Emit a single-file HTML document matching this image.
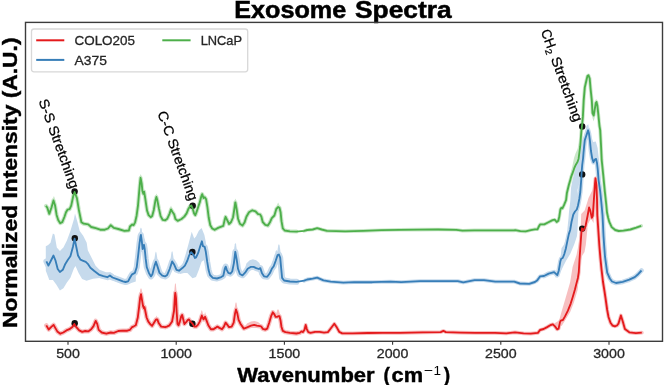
<!DOCTYPE html>
<html><head><meta charset="utf-8"><style>
html,body{margin:0;padding:0;background:#fff;}
svg{display:block;will-change:transform;}
text{font-family:"Liberation Sans",sans-serif;}
</style></head><body>
<svg width="664" height="385" viewBox="0 0 664 385">
<rect width="664" height="385" fill="#fff"/>
<!-- title -->
<text x="234.2" y="17.5" font-size="23" font-weight="bold" fill="#000" stroke="#000" stroke-width="0.5" textLength="112" lengthAdjust="spacingAndGlyphs">Exosome</text><text x="355" y="17.5" font-size="23" font-weight="bold" fill="#000" stroke="#000" stroke-width="0.5" textLength="96.6" lengthAdjust="spacingAndGlyphs">Spectra</text>
<!-- curves -->
<polyline points="46.0,205.8 47.3,207.7 49.3,213.9 51.4,207.7 53.5,200.4 55.1,205.6 56.6,214.9 58.2,220.1 60.2,223.2 62.3,222.2 64.4,217.0 66.0,212.3 67.5,209.7 69.6,209.2 71.2,205.6 73.2,196.2 74.6,192.0 76.9,198.1 78.9,210.1 81.4,222.2 83.7,223.7 88.2,224.4 91.2,227.0 95.7,228.2 100.2,229.7 104.8,229.7 108.0,228.5 110.8,225.2 113.8,227.9 118.3,229.0 124.3,230.9 128.9,230.5 130.0,226.5 132.2,224.5 133.6,225.2 135.1,222.3 136.6,215.7 138.0,205.5 139.0,193.9 139.9,183.7 140.6,177.8 141.7,183.7 142.4,191.0 143.4,193.9 144.1,191.7 145.0,196.8 146.0,203.7 147.0,210.4 148.6,215.1 150.7,217.2 152.2,216.1 153.8,209.9 155.4,200.6 156.4,196.9 157.4,200.6 159.0,208.9 160.6,216.1 162.6,219.8 165.2,220.3 167.3,218.7 169.4,214.1 171.0,209.4 172.5,212.0 174.1,214.3 175.4,219.0 177.7,220.8 181.5,219.0 184.3,216.6 186.6,213.4 188.5,208.7 189.9,206.4 191.3,205.4 192.7,208.7 194.1,213.4 195.3,215.2 196.4,212.4 197.8,208.2 199.9,201.9 201.2,196.7 202.2,194.1 203.5,198.0 204.8,197.3 206.1,199.3 207.4,207.1 208.7,217.5 210.3,225.3 212.2,228.5 214.8,229.8 218.1,227.9 221.3,226.6 223.3,225.9 224.6,220.1 225.6,216.8 227.2,220.1 229.1,224.0 231.1,222.0 233.0,217.5 234.2,210.0 235.3,202.3 235.4,202.3 236.7,209.5 238.0,218.6 239.9,223.8 242.5,225.6 244.5,222.6 246.4,216.8 249.0,212.2 252.3,210.3 255.5,211.3 258.1,214.2 260.1,214.4 261.4,216.8 262.7,222.0 265.3,224.8 267.9,225.6 269.8,222.6 271.8,218.1 274.4,215.5 276.3,209.0 278.2,207.0 279.5,207.7 280.6,212.2 281.5,221.2 282.8,228.3 284.7,230.5 289.9,231.3 296.4,231.6" fill="none" stroke="#c9e7c8" stroke-width="4.0" stroke-linejoin="round" stroke-linecap="round"/>
<polyline points="304.2,230.9 307.2,230.0 312.7,229.5 317.2,228.2 321.7,229.5 327.1,230.9 345.2,231.3 363.3,230.9 381.4,230.2 399.5,229.8 420.0,229.6 438.1,229.5 456.2,229.8 462.5,230.7 474.2,230.4 492.3,230.4 514.0,230.4 515.2,230.1 520.4,231.2 525.6,231.4 530.8,230.1 534.9,229.3 537.5,229.3 539.1,226.0 540.1,224.4 544.3,224.4 548.4,222.3 552.6,220.2 554.7,219.7 556.7,222.0 558.3,220.8 559.3,216.6 560.4,209.3 561.4,207.8 562.4,208.3 564.0,205.2 566.1,200.0 566.9,193.0 568.9,184.8 570.3,180.0 571.3,176.3 572.9,172.2 574.5,167.5 576.0,164.4 577.6,161.8 578.6,158.7 579.4,152.5 580.2,146.2 580.7,140.0 581.3,132.0 582.1,125.0 582.9,116.4 583.7,100.3 584.8,87.4 586.1,81.7 587.4,76.1 588.5,75.3 589.7,78.5 590.6,89.0 591.8,100.3 592.5,113.0 593.7,115.5 594.8,108.9 595.8,103.0 596.5,101.9 597.4,105.8 598.4,115.2 599.5,126.1 600.2,130.1 601.0,145.0 601.7,160.0 603.3,175.6 604.8,191.3 606.2,204.0 607.0,212.5 608.2,218.0 609.3,221.9 611.7,227.1 615.2,230.0 618.7,231.0 623.4,230.6 630.4,229.5 636.2,227.7 641.2,225.9" fill="none" stroke="#c9e7c8" stroke-width="3.6" stroke-linejoin="round" stroke-linecap="round"/>
<polyline points="46.4,261.4 48.4,265.6 51.0,260.5 53.5,255.5 55.5,260.5 57.7,269.0 59.9,272.0 62.8,269.8 65.3,263.9 67.9,259.7 70.4,256.3 72.9,247.0 74.6,238.6 76.3,247.0 78.0,255.5 80.5,259.7 82.6,260.6 85.8,261.9 87.8,263.8 90.4,267.7 94.3,271.0 99.5,274.9 103.4,276.2 107.3,277.2 109.9,275.5 112.5,277.5 117.7,279.4 122.9,281.4 125.5,282.0 128.1,281.4 130.0,277.8 132.1,274.3 134.9,272.9 136.7,267.3 138.1,256.0 139.5,243.4 140.5,236.4 140.9,235.0 141.9,242.0 142.6,249.0 143.3,245.5 144.0,244.8 144.7,249.0 145.7,258.9 146.8,267.3 148.9,272.9 151.0,276.4 152.4,274.3 154.5,265.9 155.9,261.7 157.3,265.9 159.5,272.9 162.3,275.7 165.0,276.4 167.2,274.9 169.7,269.0 172.2,261.4 174.3,264.8 176.5,269.8 179.0,270.7 182.4,268.1 184.9,265.6 187.4,260.5 189.1,255.5 191.1,252.1 193.3,254.6 195.0,258.0 196.0,257.5 198.1,253.2 200.2,246.2 201.9,241.3 203.0,246.2 204.7,246.9 205.8,251.8 207.2,261.7 208.6,270.1 210.0,275.0 212.8,277.8 217.0,278.5 221.2,277.1 223.3,275.7 224.8,268.7 225.7,266.6 226.9,270.1 228.3,272.9 230.4,273.6 232.2,271.5 233.9,263.1 235.3,251.8 236.7,259.7 238.0,268.8 239.9,274.0 242.5,275.3 245.1,272.7 247.7,268.8 251.0,266.8 253.6,266.8 256.2,268.1 258.8,269.0 260.3,268.1 262.0,273.3 264.0,276.3 267.2,276.8 269.8,273.3 271.8,268.8 273.7,266.2 275.6,261.0 277.6,255.1 278.9,254.5 280.2,257.7 281.1,267.5 282.1,277.9 284.1,280.5 289.9,281.5 296.4,281.8" fill="none" stroke="#c6daec" stroke-width="6.0" stroke-linejoin="round" stroke-linecap="round"/>
<polyline points="304.2,280.7 307.2,279.5 312.7,278.6 317.2,277.7 323.5,280.4 330.7,281.6 343.4,282.7 354.2,282.2 372.3,282.2 390.4,281.6 401.3,282.2 420.0,281.1 438.8,281.1 457.7,281.1 463.3,282.4 474.6,280.1 484.0,280.1 495.3,281.6 514.2,281.6 519.8,283.5 529.2,283.9 534.9,282.0 537.0,280.6 539.3,277.5 540.1,276.4 544.0,276.0" fill="none" stroke="#c6daec" stroke-width="3.8" stroke-linejoin="round" stroke-linecap="round"/>
<polyline points="544.0,276.0 548.7,273.6 554.1,272.1 555.7,273.6 557.3,275.2 558.8,270.5 560.4,261.2 561.2,258.8 562.7,258.0 564.3,254.1 565.8,248.7 567.4,240.9 568.9,233.9 570.2,230.0 571.5,222.0 573.3,214.5 575.0,211.5 576.8,209.5 578.0,205.5 579.3,199.0 580.3,192.0 581.2,180.0 581.7,171.2 582.2,165.0 583.1,158.0 583.5,153.0 584.1,146.6 584.8,140.1 585.7,137.5 587.0,133.6 588.1,130.3 589.0,133.6 590.0,141.4 590.9,150.5 592.2,158.3 593.5,162.2 594.8,159.6 596.1,158.9 597.0,163.0 597.8,170.0 598.6,180.3 600.2,191.3 601.3,202.2 602.5,215.0 603.0,225.0 603.5,235.8 604.2,246.0 605.0,256.7 606.7,269.2 607.2,272.7 609.8,278.5 612.0,281.5 616.0,283.0 622.7,281.9 629.3,279.7 634.8,277.1 637.5,274.8 641.5,270.5" fill="none" stroke="#c6daec" stroke-width="4.6" stroke-linejoin="round" stroke-linecap="round"/>
<polyline points="46.3,325.4 48.7,329.5 51.3,326.9 53.6,324.9 55.1,327.6 57.3,331.4 60.3,333.7 63.3,332.5 66.4,330.4 69.4,329.2 72.4,326.9 74.3,323.9 76.1,326.9 79.2,330.4 82.2,331.9 85.2,331.0 88.2,331.4 91.2,329.2 93.5,326.1 95.7,320.9 97.2,323.9 98.7,329.9 101.7,332.5 106.3,333.7 110.8,332.5 113.8,332.9 118.3,331.0 122.8,330.7 127.3,330.7 130.0,329.8 132.0,327.2 133.9,326.3 135.8,325.3 137.8,317.5 139.1,307.1 140.1,298.0 141.0,294.1 141.9,299.3 143.0,305.8 144.0,308.4 144.5,307.1 145.3,311.0 146.6,317.5 148.2,321.4 150.1,324.0 152.1,325.9 154.0,322.7 156.0,319.4 157.3,319.4 158.8,323.3 161.2,326.6 165.1,327.2 166.9,326.6 169.5,325.3 172.1,321.4 174.0,311.0 175.0,295.4 175.3,292.8 176.0,298.0 176.6,311.0 177.5,324.0 178.6,325.3 179.9,321.4 181.2,316.2 182.2,314.9 183.1,318.8 184.4,324.0 185.7,322.7 187.7,320.1 189.0,319.4 190.3,321.4 192.2,323.3 194.2,326.6 196.1,326.6 198.1,324.6 199.9,321.4 201.8,315.5 203.5,319.4 205.1,316.8 206.4,320.1 208.3,325.3 210.9,329.2 213.5,329.2 215.5,327.9 217.4,326.6 219.4,327.9 222.0,329.2 223.9,326.6 225.6,322.7 227.2,324.6 229.1,327.2 231.7,326.6 233.7,322.7 235.0,313.6 236.0,309.5 237.3,313.4 238.6,319.9 240.6,324.0 243.8,328.6 247.1,327.3 251.0,325.7 254.2,324.9 256.8,325.7 260.1,326.2 261.4,326.6 262.7,328.8 265.3,329.6 267.2,328.6 269.2,322.7 271.1,316.2 272.8,312.3 274.4,314.3 275.6,316.9 276.9,316.9 278.2,316.2 279.5,316.2 280.6,320.8 281.5,327.0 282.8,330.9 285.4,332.2 289.9,332.9 296.4,333.5 299.7,332.9" fill="none" stroke="#f7bfc0" stroke-width="4.4" stroke-linejoin="round" stroke-linecap="round"/>
<polyline points="299.7,332.9 301.5,331.4 303.0,332.1 304.5,329.8 305.7,324.9 306.8,329.1 308.3,332.1 310.5,332.9 315.1,331.8 319.6,331.8 324.1,332.6 327.9,332.1 330.9,328.3 334.3,323.8 336.9,327.6 339.2,331.8 342.2,333.3 352.7,333.3 367.8,333.0 382.8,332.9 400.0,332.9 422.6,332.4 440.7,332.1 443.4,330.9 445.9,332.1 460.2,332.6 475.3,332.9 495.0,332.9 506.4,333.3 515.0,332.4 523.6,333.3 530.7,333.6 537.9,332.9 540.0,330.0 543.6,329.0 547.1,327.1 550.7,325.0 552.9,324.3 555.0,326.4 557.1,329.3 558.6,328.6 560.0,322.1 560.7,320.7 562.9,320.0 565.0,316.4 567.9,310.7 570.7,303.6 572.9,296.4 575.0,289.3 576.4,283.6 577.9,277.9 578.8,272.0 579.5,260.0 580.3,247.8 581.4,232.5 582.0,228.3 583.5,230.4 585.5,226.3 587.6,215.8 589.1,207.5 590.3,210.6 591.8,217.9 592.8,215.8 593.9,199.2 594.9,184.6 595.5,178.3 596.4,185.0 597.0,199.0 597.3,215.0 598.3,230.0 599.4,246.3 600.4,258.0 601.5,269.2 603.0,282.0 604.6,292.0 605.5,298.0 607.2,310.0 608.5,317.0 610.5,322.8 612.5,325.5 614.9,326.3 617.0,325.5 618.5,323.5 620.9,315.5 622.7,321.2 624.9,329.0 629.3,332.3 635.9,333.2 641.8,332.7" fill="none" stroke="#f7bfc0" stroke-width="3.8" stroke-linejoin="round" stroke-linecap="round"/>
<polygon points="45.8,246.2 48.2,245.0 50.5,242.7 52.9,233.4 54.5,234.5 56.8,247.4 59.9,250.9 63.4,247.4 66.9,240.4 70.4,231.0 73.9,219.3 75.0,213.5 77.4,221.7 79.7,231.0 83.2,235.7 86.7,242.7 87.8,250.2 91.7,258.0 95.6,265.8 99.5,269.7 106.0,272.3 110.5,272.3 115.0,275.5 122.9,279.0 128.0,279.0 132.0,273.0 135.8,270.3 135.8,281.4 132.0,282.7 126.8,284.6 121.6,283.3 113.8,280.7 106.0,278.5 99.5,278.1 93.0,278.8 86.5,280.7 82.1,279.0 78.6,273.1 75.5,266.1 73.9,268.4 70.4,277.8 66.9,282.4 63.4,288.3 59.9,290.6 56.4,284.8 52.9,280.1 49.3,280.1 45.8,270.7" fill="#c6daec"/>
<polygon points="180.0,269.0 183.0,263.0 186.0,253.0 188.5,244.0 191.7,231.8 194.2,238.6 196.0,236.4 198.8,230.8 201.6,228.0 204.4,235.0 205.8,242.0 206.5,256.0 208.0,268.0 208.0,272.0 207.2,270.0 205.8,264.5 203.7,260.3 201.6,261.7 198.8,270.0 196.0,277.0 192.5,278.3 187.4,273.0 184.0,273.0 180.0,274.0" fill="#c6daec"/>
<polygon points="555.0,276.0 557.0,272.0 558.1,268.5 559.5,260.4 560.8,255.0 561.5,248.3 564.2,244.2 566.9,236.1 567.5,228.0 568.5,218.0 569.0,211.4 570.3,201.0 571.0,188.0 572.5,180.0 575.0,170.0 578.0,158.0 580.5,148.0 582.5,140.0 584.0,136.0 586.5,126.0 588.3,124.0 588.1,131.0 587.0,133.0 585.5,137.0 584.0,142.0 582.9,150.0 582.0,160.0 581.3,170.0 580.8,180.0 578.5,186.0 577.5,190.0 578.5,200.0 578.5,210.0 578.0,220.0 577.5,230.0 577.0,236.0 574.3,244.2 570.3,253.7 566.2,260.4 563.5,265.8 561.5,269.9 559.0,274.0 556.0,278.0" fill="#c6daec"/>
<polygon points="588.5,124.5 590.5,134.0 593.0,142.0 595.8,141.5 597.6,148.0 599.0,160.0 600.5,180.0 602.5,200.0 604.0,212.0 605.0,240.0 604.0,256.7 603.2,246.0 602.5,235.8 602.0,225.0 601.5,215.0 600.3,202.2 599.2,191.3 597.6,180.3 596.8,170.0 596.0,163.0 595.1,158.9 593.8,159.6 592.5,162.2 591.2,158.3 589.9,150.5 589.0,141.4 588.0,133.6" fill="#c6daec"/>
<polygon points="555.0,323.0 559.1,320.5 561.6,311.4 565.3,299.1 570.2,281.9 572.6,267.1 574.5,261.0 576.5,255.0 578.5,245.0 580.0,235.0 580.8,225.0 581.2,214.0 584.6,210.6 587.0,203.0 588.5,198.1 590.0,195.0 592.5,190.0 594.5,179.0 596.0,176.0 597.0,180.0 596.5,190.0 594.0,205.0 593.6,223.0 590.8,218.4 586.9,226.2 587.5,228.0 586.8,235.0 585.8,245.0 584.5,252.0 582.0,256.0 580.5,262.0 579.6,270.0 578.8,278.0 577.6,290.0 573.9,302.5 570.2,312.0 565.3,320.0 562.0,325.5 555.0,329.5" fill="#f7bfc0"/>
<polygon points="566.0,195.0 568.0,186.0 570.0,176.0 572.4,166.0 574.0,158.0 575.5,153.5 577.5,149.0 579.5,141.0 581.0,131.0 580.7,140.0 580.2,146.2 579.4,152.5 578.6,158.7 577.6,161.8 576.0,164.4 574.5,167.5 572.9,172.2 571.3,176.3 570.3,180.0 568.9,184.8 566.9,193.0 566.1,200.0" fill="#c9e7c8"/>
<polygon points="591.0,105.0 592.5,118.0 593.7,121.5 595.5,114.0 597.0,106.0 598.5,112.0 597.0,100.0 596.0,99.0 594.0,106.0" fill="#c9e7c8"/>
<polygon points="137.0,262.0 139.0,240.0 141.0,227.6 143.0,236.0 145.0,240.0 147.0,252.0 147.0,270.0 145.0,258.0 143.0,252.0 141.0,250.0 139.0,262.0 137.0,272.0" fill="#c6daec"/>
<polygon points="244.0,272.0 246.4,263.5 249.7,260.3 252.9,259.2 256.2,260.3 259.4,263.0 261.0,268.0 252.0,270.0" fill="#c6daec"/>
<polygon points="244.0,328.0 247.0,323.5 251.0,321.5 254.5,321.0 258.0,322.0 261.0,324.5 262.0,328.0" fill="#f7bfc0"/>
<polygon points="138.5,241 140.2,229.0 140.9,227.5 141.6,229.0 143.3,241" fill="#c6daec"/>
<polygon points="142.5,250 143.9,243.5 144.5,242 145.1,243.5 146.5,250" fill="#c6daec"/>
<polygon points="153.9,262 155.3,253.1 155.9,251.6 156.5,253.1 157.9,262" fill="#c6daec"/>
<polygon points="170.1,262 171.5,252.4 172.1,250.9 172.7,252.4 174.1,262" fill="#c6daec"/>
<polygon points="233.4,254 234.8,244.3 235.4,242.8 236.0,244.3 237.4,254" fill="#c6daec"/>
<polygon points="276.7,256 278.2,245.6 278.9,244.1 279.6,245.6 281.1,256" fill="#c6daec"/>
<polygon points="273.5,262 275.6,251.5 276.5,250 277.4,251.5 279.5,262" fill="#c6daec"/>
<polygon points="138.8,298 140.3,289.4 141.0,287.9 141.7,289.4 143.2,298" fill="#f7bfc0"/>
<polygon points="142.7,310 144.0,304.5 144.5,303 145.0,304.5 146.3,310" fill="#f7bfc0"/>
<polygon points="173.8,297 174.9,284.5 175.4,283 175.9,284.5 177.0,297" fill="#f7bfc0"/>
<polygon points="154.6,321 156.0,317.0 156.6,315.5 157.2,317.0 158.6,321" fill="#f7bfc0"/>
<polygon points="180.4,318 181.5,314.5 182.0,313 182.5,314.5 183.6,318" fill="#f7bfc0"/>
<polygon points="234.0,312 235.4,303.5 236.0,302 236.6,303.5 238.0,312" fill="#f7bfc0"/>
<polygon points="199.8,317 201.2,311.5 201.8,310 202.4,311.5 203.8,317" fill="#f7bfc0"/>
<polygon points="203.6,318 204.7,313.5 205.1,312 205.5,313.5 206.6,318" fill="#f7bfc0"/>
<polygon points="275.0,318 277.1,310.5 278.0,309 278.9,310.5 281.0,318" fill="#f7bfc0"/>
<polygon points="51.9,203 53.3,197.5 53.9,196 54.5,197.5 55.9,203" fill="#c9e7c8"/>
<polygon points="138.7,181 140.1,175.5 140.7,174 141.3,175.5 142.7,181" fill="#c9e7c8"/>
<polygon points="154.4,199 155.8,195.0 156.4,193.5 157.0,195.0 158.4,199" fill="#c9e7c8"/>
<polygon points="169.0,211 170.4,207.0 171.0,205.5 171.6,207.0 173.0,211" fill="#c9e7c8"/>
<polygon points="233.4,205 234.8,200.0 235.4,198.5 236.0,200.0 237.4,205" fill="#c9e7c8"/>
<polygon points="275.7,209 277.4,204.0 278.2,202.5 278.9,204.0 280.7,209" fill="#c9e7c8"/>
<circle cx="74.6" cy="191.4" r="3.2" fill="#111"/>
<circle cx="74.8" cy="238.2" r="3.2" fill="#111"/>
<circle cx="74.7" cy="323.3" r="3.2" fill="#111"/>
<circle cx="192.7" cy="205.8" r="3.2" fill="#111"/>
<circle cx="192.4" cy="252" r="3.2" fill="#111"/>
<circle cx="192.4" cy="323.8" r="3.2" fill="#111"/>
<circle cx="582.2" cy="126.5" r="3.2" fill="#111"/>
<circle cx="582.2" cy="174.4" r="3.2" fill="#111"/>
<circle cx="582.2" cy="228.6" r="3.2" fill="#111"/>
<polyline points="46.0,205.8 47.3,207.7 49.3,213.9 51.4,207.7 53.5,200.4 55.1,205.6 56.6,214.9 58.2,220.1 60.2,223.2 62.3,222.2 64.4,217.0 66.0,212.3 67.5,209.7 69.6,209.2 71.2,205.6 73.2,196.2 74.6,192.0 76.9,198.1 78.9,210.1 81.4,222.2 83.7,223.7 88.2,224.4 91.2,227.0 95.7,228.2 100.2,229.7 104.8,229.7 108.0,228.5 110.8,225.2 113.8,227.9 118.3,229.0 124.3,230.9 128.9,230.5 130.0,226.5 132.2,224.5 133.6,225.2 135.1,222.3 136.6,215.7 138.0,205.5 139.0,193.9 139.9,183.7 140.6,177.8 141.7,183.7 142.4,191.0 143.4,193.9 144.1,191.7 145.0,196.8 146.0,203.7 147.0,210.4 148.6,215.1 150.7,217.2 152.2,216.1 153.8,209.9 155.4,200.6 156.4,196.9 157.4,200.6 159.0,208.9 160.6,216.1 162.6,219.8 165.2,220.3 167.3,218.7 169.4,214.1 171.0,209.4 172.5,212.0 174.1,214.3 175.4,219.0 177.7,220.8 181.5,219.0 184.3,216.6 186.6,213.4 188.5,208.7 189.9,206.4 191.3,205.4 192.7,208.7 194.1,213.4 195.3,215.2 196.4,212.4 197.8,208.2 199.9,201.9 201.2,196.7 202.2,194.1 203.5,198.0 204.8,197.3 206.1,199.3 207.4,207.1 208.7,217.5 210.3,225.3 212.2,228.5 214.8,229.8 218.1,227.9 221.3,226.6 223.3,225.9 224.6,220.1 225.6,216.8 227.2,220.1 229.1,224.0 231.1,222.0 233.0,217.5 234.2,210.0 235.3,202.3 235.4,202.3 236.7,209.5 238.0,218.6 239.9,223.8 242.5,225.6 244.5,222.6 246.4,216.8 249.0,212.2 252.3,210.3 255.5,211.3 258.1,214.2 260.1,214.4 261.4,216.8 262.7,222.0 265.3,224.8 267.9,225.6 269.8,222.6 271.8,218.1 274.4,215.5 276.3,209.0 278.2,207.0 279.5,207.7 280.6,212.2 281.5,221.2 282.8,228.3 284.7,230.5 289.9,231.3 296.4,231.6 304.2,230.9 307.2,230.0 312.7,229.5 317.2,228.2 321.7,229.5 327.1,230.9 345.2,231.3 363.3,230.9 381.4,230.2 399.5,229.8 420.0,229.6 438.1,229.5 456.2,229.8 462.5,230.7 474.2,230.4 492.3,230.4 514.0,230.4 515.2,230.1 520.4,231.2 525.6,231.4 530.8,230.1 534.9,229.3 537.5,229.3 539.1,226.0 540.1,224.4 544.3,224.4 548.4,222.3 552.6,220.2 554.7,219.7 556.7,222.0 558.3,220.8 559.3,216.6 560.4,209.3 561.4,207.8 562.4,208.3 564.0,205.2 566.1,200.0 566.9,193.0 568.9,184.8 570.3,180.0 571.3,176.3 572.9,172.2 574.5,167.5 576.0,164.4 577.6,161.8 578.6,158.7 579.4,152.5 580.2,146.2 580.7,140.0 581.3,132.0 582.1,125.0 582.9,116.4 583.7,100.3 584.8,87.4 586.1,81.7 587.4,76.1 588.5,75.3 589.7,78.5 590.6,89.0 591.8,100.3 592.5,113.0 593.7,115.5 594.8,108.9 595.8,103.0 596.5,101.9 597.4,105.8 598.4,115.2 599.5,126.1 600.2,130.1 601.0,145.0 601.7,160.0 603.3,175.6 604.8,191.3 606.2,204.0 607.0,212.5 608.2,218.0 609.3,221.9 611.7,227.1 615.2,230.0 618.7,231.0 623.4,230.6 630.4,229.5 636.2,227.7 641.2,225.9" fill="none" stroke="#4daf4a" stroke-width="1.85" stroke-linejoin="round"/>
<polyline points="46.4,261.4 48.4,265.6 51.0,260.5 53.5,255.5 55.5,260.5 57.7,269.0 59.9,272.0 62.8,269.8 65.3,263.9 67.9,259.7 70.4,256.3 72.9,247.0 74.6,238.6 76.3,247.0 78.0,255.5 80.5,259.7 82.6,260.6 85.8,261.9 87.8,263.8 90.4,267.7 94.3,271.0 99.5,274.9 103.4,276.2 107.3,277.2 109.9,275.5 112.5,277.5 117.7,279.4 122.9,281.4 125.5,282.0 128.1,281.4 130.0,277.8 132.1,274.3 134.9,272.9 136.7,267.3 138.1,256.0 139.5,243.4 140.5,236.4 140.9,235.0 141.9,242.0 142.6,249.0 143.3,245.5 144.0,244.8 144.7,249.0 145.7,258.9 146.8,267.3 148.9,272.9 151.0,276.4 152.4,274.3 154.5,265.9 155.9,261.7 157.3,265.9 159.5,272.9 162.3,275.7 165.0,276.4 167.2,274.9 169.7,269.0 172.2,261.4 174.3,264.8 176.5,269.8 179.0,270.7 182.4,268.1 184.9,265.6 187.4,260.5 189.1,255.5 191.1,252.1 193.3,254.6 195.0,258.0 196.0,257.5 198.1,253.2 200.2,246.2 201.9,241.3 203.0,246.2 204.7,246.9 205.8,251.8 207.2,261.7 208.6,270.1 210.0,275.0 212.8,277.8 217.0,278.5 221.2,277.1 223.3,275.7 224.8,268.7 225.7,266.6 226.9,270.1 228.3,272.9 230.4,273.6 232.2,271.5 233.9,263.1 235.3,251.8 236.7,259.7 238.0,268.8 239.9,274.0 242.5,275.3 245.1,272.7 247.7,268.8 251.0,266.8 253.6,266.8 256.2,268.1 258.8,269.0 260.3,268.1 262.0,273.3 264.0,276.3 267.2,276.8 269.8,273.3 271.8,268.8 273.7,266.2 275.6,261.0 277.6,255.1 278.9,254.5 280.2,257.7 281.1,267.5 282.1,277.9 284.1,280.5 289.9,281.5 296.4,281.8 304.2,280.7 307.2,279.5 312.7,278.6 317.2,277.7 323.5,280.4 330.7,281.6 343.4,282.7 354.2,282.2 372.3,282.2 390.4,281.6 401.3,282.2 420.0,281.1 438.8,281.1 457.7,281.1 463.3,282.4 474.6,280.1 484.0,280.1 495.3,281.6 514.2,281.6 519.8,283.5 529.2,283.9 534.9,282.0 537.0,280.6 539.3,277.5 540.1,276.4 544.0,276.0 548.7,273.6 554.1,272.1 555.7,273.6 557.3,275.2 558.8,270.5 560.4,261.2 561.2,258.8 562.7,258.0 564.3,254.1 565.8,248.7 567.4,240.9 568.9,233.9 570.2,230.0 571.5,222.0 573.3,214.5 575.0,211.5 576.8,209.5 578.0,205.5 579.3,199.0 580.3,192.0 581.2,180.0 581.7,171.2 582.2,165.0 583.1,158.0 583.5,153.0 584.1,146.6 584.8,140.1 585.7,137.5 587.0,133.6 588.1,130.3 589.0,133.6 590.0,141.4 590.9,150.5 592.2,158.3 593.5,162.2 594.8,159.6 596.1,158.9 597.0,163.0 597.8,170.0 598.6,180.3 600.2,191.3 601.3,202.2 602.5,215.0 603.0,225.0 603.5,235.8 604.2,246.0 605.0,256.7 606.7,269.2 607.2,272.7 609.8,278.5 612.0,281.5 616.0,283.0 622.7,281.9 629.3,279.7 634.8,277.1 637.5,274.8 641.5,270.5" fill="none" stroke="#377eb8" stroke-width="1.85" stroke-linejoin="round"/>
<polyline points="46.3,325.4 48.7,329.5 51.3,326.9 53.6,324.9 55.1,327.6 57.3,331.4 60.3,333.7 63.3,332.5 66.4,330.4 69.4,329.2 72.4,326.9 74.3,323.9 76.1,326.9 79.2,330.4 82.2,331.9 85.2,331.0 88.2,331.4 91.2,329.2 93.5,326.1 95.7,320.9 97.2,323.9 98.7,329.9 101.7,332.5 106.3,333.7 110.8,332.5 113.8,332.9 118.3,331.0 122.8,330.7 127.3,330.7 130.0,329.8 132.0,327.2 133.9,326.3 135.8,325.3 137.8,317.5 139.1,307.1 140.1,298.0 141.0,294.1 141.9,299.3 143.0,305.8 144.0,308.4 144.5,307.1 145.3,311.0 146.6,317.5 148.2,321.4 150.1,324.0 152.1,325.9 154.0,322.7 156.0,319.4 157.3,319.4 158.8,323.3 161.2,326.6 165.1,327.2 166.9,326.6 169.5,325.3 172.1,321.4 174.0,311.0 175.0,295.4 175.3,292.8 176.0,298.0 176.6,311.0 177.5,324.0 178.6,325.3 179.9,321.4 181.2,316.2 182.2,314.9 183.1,318.8 184.4,324.0 185.7,322.7 187.7,320.1 189.0,319.4 190.3,321.4 192.2,323.3 194.2,326.6 196.1,326.6 198.1,324.6 199.9,321.4 201.8,315.5 203.5,319.4 205.1,316.8 206.4,320.1 208.3,325.3 210.9,329.2 213.5,329.2 215.5,327.9 217.4,326.6 219.4,327.9 222.0,329.2 223.9,326.6 225.6,322.7 227.2,324.6 229.1,327.2 231.7,326.6 233.7,322.7 235.0,313.6 236.0,309.5 237.3,313.4 238.6,319.9 240.6,324.0 243.8,328.6 247.1,327.3 251.0,325.7 254.2,324.9 256.8,325.7 260.1,326.2 261.4,326.6 262.7,328.8 265.3,329.6 267.2,328.6 269.2,322.7 271.1,316.2 272.8,312.3 274.4,314.3 275.6,316.9 276.9,316.9 278.2,316.2 279.5,316.2 280.6,320.8 281.5,327.0 282.8,330.9 285.4,332.2 289.9,332.9 296.4,333.5 299.7,332.9 301.5,331.4 303.0,332.1 304.5,329.8 305.7,324.9 306.8,329.1 308.3,332.1 310.5,332.9 315.1,331.8 319.6,331.8 324.1,332.6 327.9,332.1 330.9,328.3 334.3,323.8 336.9,327.6 339.2,331.8 342.2,333.3 352.7,333.3 367.8,333.0 382.8,332.9 400.0,332.9 422.6,332.4 440.7,332.1 443.4,330.9 445.9,332.1 460.2,332.6 475.3,332.9 495.0,332.9 506.4,333.3 515.0,332.4 523.6,333.3 530.7,333.6 537.9,332.9 540.0,330.0 543.6,329.0 547.1,327.1 550.7,325.0 552.9,324.3 555.0,326.4 557.1,329.3 558.6,328.6 560.0,322.1 560.7,320.7 562.9,320.0 565.0,316.4 567.9,310.7 570.7,303.6 572.9,296.4 575.0,289.3 576.4,283.6 577.9,277.9 578.8,272.0 579.5,260.0 580.3,247.8 581.4,232.5 582.0,228.3 583.5,230.4 585.5,226.3 587.6,215.8 589.1,207.5 590.3,210.6 591.8,217.9 592.8,215.8 593.9,199.2 594.9,184.6 595.5,178.3 596.4,185.0 597.0,199.0 597.3,215.0 598.3,230.0 599.4,246.3 600.4,258.0 601.5,269.2 603.0,282.0 604.6,292.0 605.5,298.0 607.2,310.0 608.5,317.0 610.5,322.8 612.5,325.5 614.9,326.3 617.0,325.5 618.5,323.5 620.9,315.5 622.7,321.2 624.9,329.0 629.3,332.3 635.9,333.2 641.8,332.7" fill="none" stroke="#e41a1c" stroke-width="1.85" stroke-linejoin="round"/>
<!-- axes frame -->
<rect x="25.5" y="22.4" width="637" height="318.9" fill="none" stroke="#3c3c3c" stroke-width="1.4"/>
<!-- x ticks -->
<g stroke="#333" stroke-width="1.1">
<line x1="68" y1="341.3" x2="68" y2="344.8"/>
<line x1="176.2" y1="341.3" x2="176.2" y2="344.8"/>
<line x1="284.4" y1="341.3" x2="284.4" y2="344.8"/>
<line x1="392.6" y1="341.3" x2="392.6" y2="344.8"/>
<line x1="500.8" y1="341.3" x2="500.8" y2="344.8"/>
<line x1="609" y1="341.3" x2="609" y2="344.8"/>
</g>
<g font-size="13.2" fill="#262626" stroke="#262626" stroke-width="0.3" text-anchor="middle">
<text x="68" y="358.3" textLength="23.7" lengthAdjust="spacingAndGlyphs">500</text>
<text x="176.2" y="358.3" textLength="31.6" lengthAdjust="spacingAndGlyphs">1000</text>
<text x="284.4" y="358.3" textLength="31.6" lengthAdjust="spacingAndGlyphs">1500</text>
<text x="392.6" y="358.3" textLength="31.6" lengthAdjust="spacingAndGlyphs">2000</text>
<text x="500.8" y="358.3" textLength="31.6" lengthAdjust="spacingAndGlyphs">2500</text>
<text x="609" y="358.3" textLength="31.6" lengthAdjust="spacingAndGlyphs">3000</text>
</g>
<!-- x label -->
<text x="237.2" y="382.3" font-size="19.3" font-weight="bold" fill="#000" stroke="#000" stroke-width="0.4" textLength="137.5" lengthAdjust="spacingAndGlyphs">Wavenumber</text>
<text x="383.6" y="382.3" font-size="19.3" font-weight="bold" fill="#000" stroke="#000" stroke-width="0.4">(</text>
<text x="391.6" y="382.3" font-size="19.3" font-weight="bold" fill="#000" stroke="#000" stroke-width="0.4" textLength="31.5" lengthAdjust="spacingAndGlyphs">cm</text>
<text x="424" y="374.8" font-size="13.5" fill="#000" textLength="9.2" lengthAdjust="spacingAndGlyphs">&#8722;</text>
<text x="433.6" y="374.8" font-size="13.5" fill="#000">1</text>
<text x="443.8" y="382.3" font-size="19.3" font-weight="bold" fill="#000" stroke="#000" stroke-width="0.4">)</text>
<!-- y label -->
<text transform="translate(16.6,182.7) rotate(-90)" text-anchor="middle" font-size="19.3" font-weight="bold" fill="#000" stroke="#000" stroke-width="0.4" textLength="290.5" lengthAdjust="spacingAndGlyphs">Normalized Intensity (A.U.)</text>
<!-- legend -->
<rect x="31.5" y="29" width="216.2" height="42.8" rx="2.5" fill="#fff" fill-opacity="0.8" stroke="#d8d8d8" stroke-width="1.3"/>
<line x1="36.2" y1="40.3" x2="64.3" y2="40.3" stroke="#e41a1c" stroke-width="2"/>
<line x1="36.2" y1="59.9" x2="64.3" y2="59.9" stroke="#377eb8" stroke-width="2"/>
<line x1="162.3" y1="40.3" x2="190.6" y2="40.3" stroke="#4daf4a" stroke-width="2"/>
<g font-size="13" fill="#262626" stroke="#262626" stroke-width="0.3">
<text x="74.5" y="44.9" textLength="60.5" lengthAdjust="spacingAndGlyphs">COLO205</text>
<text x="74.5" y="64.9" textLength="32.4" lengthAdjust="spacingAndGlyphs">A375</text>
<text x="200.7" y="45.3" textLength="41.4" lengthAdjust="spacingAndGlyphs">LNCaP</text>
</g>
<!-- annotations -->
<g font-size="13.8" fill="#000" stroke="#000" stroke-width="0.25">
<g transform="translate(38.4,101.0) rotate(70)"><text x="0" y="0" textLength="94" lengthAdjust="spacingAndGlyphs">S-S Stretching</text></g>
<g transform="translate(157.2,113.0) rotate(70)"><text x="0" y="0" textLength="94.3" lengthAdjust="spacingAndGlyphs">C-C Stretching</text></g>
<g transform="translate(540.8,31.2) rotate(70)"><text x="0" y="0" textLength="19.1" lengthAdjust="spacingAndGlyphs">CH</text><text x="19.3" y="2.8" font-size="9.2" textLength="5.6" lengthAdjust="spacingAndGlyphs">2</text><text x="29.2" y="0" textLength="68.3" lengthAdjust="spacingAndGlyphs">Stretching</text></g>
</g>
</svg>
</body></html>
